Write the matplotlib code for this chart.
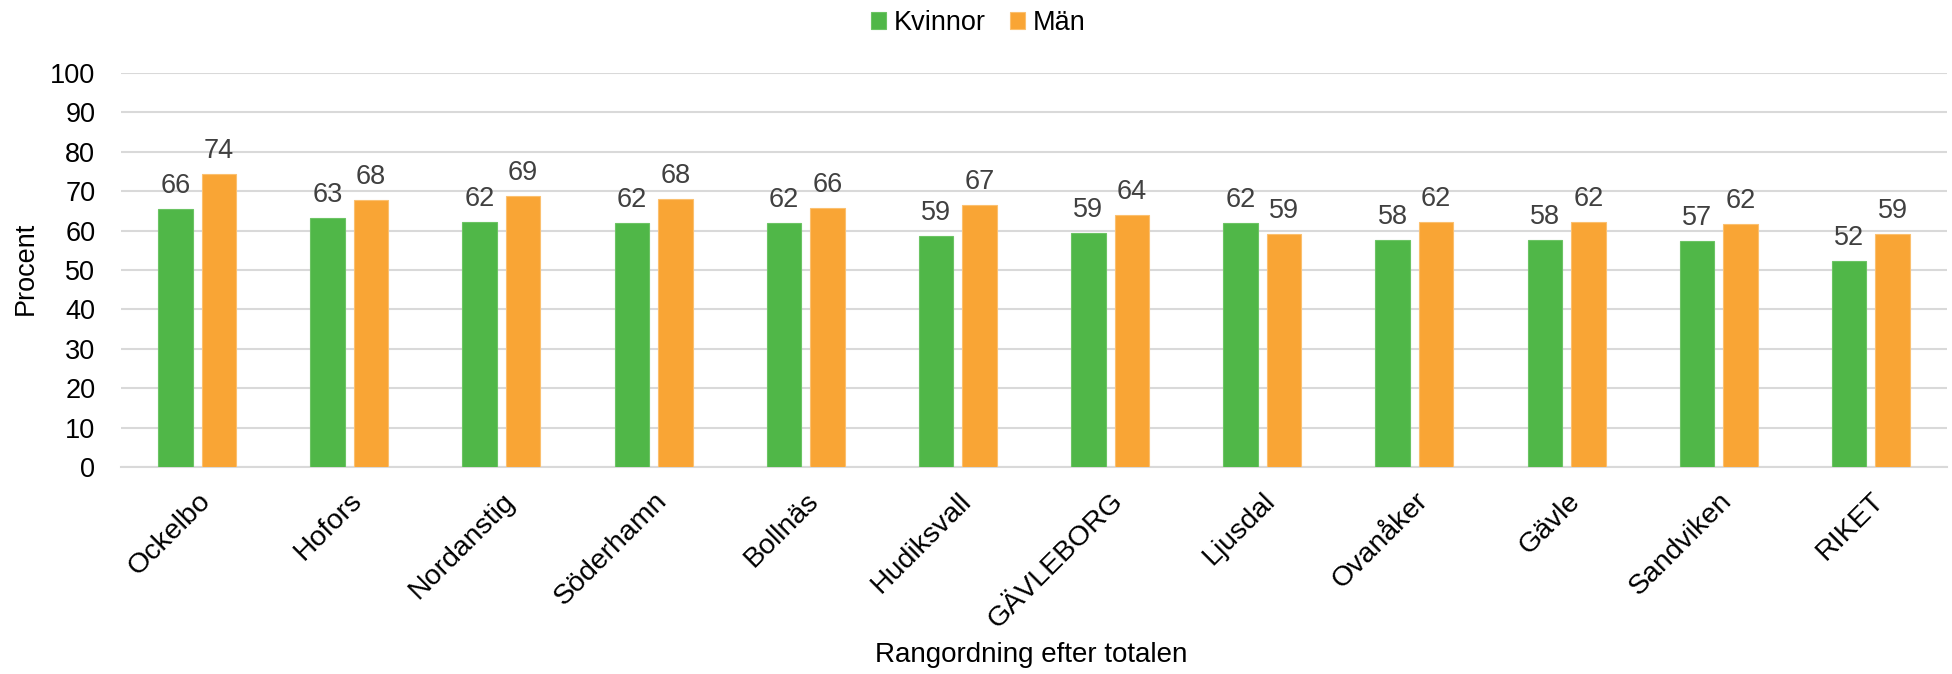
import matplotlib
matplotlib.use("Agg")
import matplotlib.pyplot as plt
import numpy as np

plt.rcParams['font.family'] = ['Liberation Sans', 'DejaVu Sans']

categories = ["Ockelbo", "Hofors", "Nordanstig", "Söderhamn", "Bollnäs", "Hudiksvall",
              "GÄVLEBORG", "Ljusdal", "Ovanåker", "Gävle", "Sandviken", "RIKET"]
kvinnor = [65.6, 63.3, 62.2, 62.0, 62.0, 58.6, 59.3, 61.9, 57.7, 57.7, 57.4, 52.2]
man = [74.4, 67.8, 68.7, 68.1, 65.8, 66.6, 64.0, 59.2, 62.2, 62.3, 61.6, 59.1]
series_names = ["Kvinnor", "Män"]
yticks = [0, 10, 20, 30, 40, 50, 60, 70, 80, 90, 100]

green = '#50b748'
orange = '#f9a535'

fig = plt.figure(figsize=(19.52, 6.74), dpi=100)
ax = fig.add_axes([121/1952, 1-467/674, (1947-121)/1952, (467-73)/674])

x = np.arange(len(categories))
w = 0.227
off = 0.143
b1 = ax.bar(x - off, kvinnor, width=w, color=green, edgecolor='#6cc464', linewidth=0.8,
            label=series_names[0], zorder=3)
b2 = ax.bar(x + off, man, width=w, color=orange, edgecolor='#fbc06f', linewidth=0.8,
            label=series_names[1], zorder=3)

for bars in (b1, b2):
    for r in bars:
        h = r.get_height()
        ax.annotate(f"{h:.0f}", (r.get_x() + r.get_width()/2, h), xytext=(0, 11.5),
                    textcoords='offset points', ha='center', va='baseline',
                    fontsize=19.5, color='#404040')

ax.set_xlim(-0.5, len(categories) - 0.5)
ax.set_ylim(0, 100)
ax.set_yticks(yticks)
ax.set_yticklabels([str(t) for t in yticks], fontsize=19.5)
ax.set_xticks(x)
ax.set_xticklabels(categories, rotation=45, ha='right', rotation_mode='anchor', fontsize=20.5)
ax.tick_params(axis='y', length=0, pad=18.5)
ax.tick_params(axis='x', length=0, pad=15)
ax.grid(axis='y', color='#d9d9d9', linewidth=1.5, zorder=0)
for s in ['top', 'right', 'left']:
    ax.spines[s].set_visible(False)
ax.spines['bottom'].set_color('#d9d9d9')
ax.spines['bottom'].set_linewidth(1.5)

fig.text(26/1952, 1-268/674, "Procent", rotation=90, ha='center', va='center', fontsize=19.5)
fig.text(1031/1952, 1-655/674, "Rangordning efter totalen", ha='center', va='center', fontsize=20)

fig.legend(handles=[b1, b2], labels=series_names, loc='center', bbox_to_anchor=(978/1952, 1-23/674),
           ncol=2, frameon=False, fontsize=19.5, handlelength=0.57, handleheight=0.57,
           handletextpad=0.27, columnspacing=0.9, borderpad=0.2)

fig.savefig("out.png", dpi=100)
